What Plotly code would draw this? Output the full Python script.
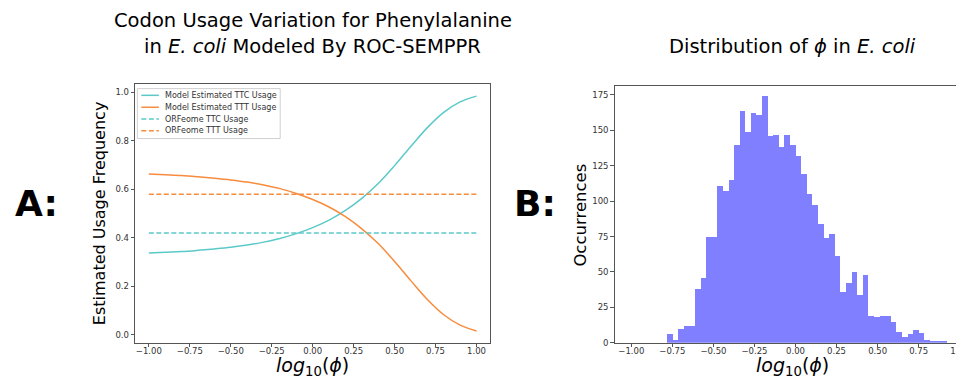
import numpy as np
import plotly.graph_objects as go

# ---- Panel A data: codon usage vs log10(phi) ----
log_phi = [-1.0, -0.9, -0.8, -0.7, -0.6, -0.5, -0.4, -0.3, -0.2, -0.1, 0.0,
           0.1, 0.2, 0.3, 0.4, 0.5, 0.6, 0.7, 0.8, 0.9, 1.0]
ttc_model = [0.337, 0.340, 0.343, 0.348, 0.354, 0.361, 0.370, 0.382, 0.397, 0.417, 0.442,
             0.473, 0.513, 0.563, 0.624, 0.698, 0.778, 0.855, 0.918, 0.961, 0.985]
ttt_model = [0.663, 0.660, 0.657, 0.652, 0.646, 0.639, 0.630, 0.618, 0.603, 0.583, 0.558,
             0.527, 0.487, 0.437, 0.376, 0.302, 0.222, 0.145, 0.082, 0.039, 0.015]
orfeome_x = [-1.0, 1.0]
orfeome_ttc = [0.42, 0.42]
orfeome_ttt = [0.58, 0.58]
legend_labels = ["Model Estimated TTC Usage", "Model Estimated TTT Usage",
                 "ORFeome TTC Usage", "ORFeome TTT Usage"]

# ---- Panel B data: histogram of log10(phi) ----
bin_first_edge = -0.785
bin_last_edge = 0.919
counts = [6, 2, 10, 12, 12, 38, 46, 75, 75, 111,
          107, 115, 140, 164, 149, 162, 161, 174, 146, 147,
          138, 147, 140, 132, 119, 105, 97, 84, 74, 77,
          61, 36, 42, 50, 34, 48, 19, 18, 19, 19,
          15, 8, 4, 6, 9, 7, 2, 1, 1, 1]

edges = np.linspace(bin_first_edge, bin_last_edge, len(counts) + 1)
centers = (edges[:-1] + edges[1:]) / 2
width = edges[1] - edges[0]

W, H = 964, 377
FONT = "DejaVu Sans"
CYAN = "#5cc9c9"
ORANGE = "#f78c3f"
DASH = "5px,2.5px"
styles = [dict(color=CYAN, width=1.5), dict(color=ORANGE, width=1.5),
          dict(color=CYAN, width=1.5, dash=DASH), dict(color=ORANGE, width=1.5, dash=DASH)]

fig = go.Figure()
fig.add_trace(go.Scatter(x=log_phi, y=ttc_model, mode="lines", line=dict(shape="spline", **styles[0]),
                         name=legend_labels[0], xaxis="x", yaxis="y", showlegend=False))
fig.add_trace(go.Scatter(x=log_phi, y=ttt_model, mode="lines", line=dict(shape="spline", **styles[1]),
                         name=legend_labels[1], xaxis="x", yaxis="y", showlegend=False))
fig.add_trace(go.Scatter(x=orfeome_x, y=orfeome_ttc, mode="lines", line=styles[2],
                         name=legend_labels[2], xaxis="x", yaxis="y", showlegend=False))
fig.add_trace(go.Scatter(x=orfeome_x, y=orfeome_ttt, mode="lines", line=styles[3],
                         name=legend_labels[3], xaxis="x", yaxis="y", showlegend=False))
fig.add_trace(go.Bar(x=centers, y=counts, width=width, marker=dict(color="rgba(0,0,255,0.5)", line=dict(width=0)),
                     showlegend=False, xaxis="x2", yaxis="y2"))

def px_x(p):
    return p / W

def px_y(p):
    return 1 - p / H

axis_common = dict(showline=True, linecolor="#555", linewidth=1, mirror=True, ticks="outside",
                   ticklen=3.5, tickcolor="#555", tickwidth=0.8, showgrid=False, zeroline=False,
                   tickfont=dict(family=FONT, size=8.5, color="#333"))

fig.update_layout(
    width=W, height=H, margin=dict(l=0, r=0, t=0, b=0),
    paper_bgcolor="white", plot_bgcolor="white",
    font=dict(family=FONT),
    bargap=0, showlegend=False,
    xaxis=dict(domain=[px_x(127.3), px_x(482.7)], range=[-1.0835, 1.0835], tickvals=[-1, -0.75, -0.5, -0.25, 0, 0.25, 0.5, 0.75, 1.0],
               tickformat=".2f", anchor="y", ticklabelstandoff=-4, **axis_common),
    yaxis=dict(domain=[px_y(339.3), px_y(77.3)], range=[-0.0338, 1.034], tickvals=[0, 0.2, 0.4, 0.6, 0.8, 1.0],
               tickformat=".1f", anchor="x", **axis_common),
    xaxis2=dict(domain=[px_x(607.3), px_x(961)], range=[-1.1016, 1.0507], tickvals=[-1, -0.75, -0.5, -0.25, 0, 0.25, 0.5, 0.75, 1.0],
                tickformat=".2f", anchor="y2", ticklabelstandoff=-4, **axis_common),
    yaxis2=dict(domain=[px_y(339.3), px_y(79)], range=[0, 181.3], tickvals=[0, 25, 50, 75, 100, 125, 150, 175],
                anchor="x2", **axis_common),
)

# manual compact legend (matplotlib-style)
shapes = [dict(type="rect", xref="paper", yref="paper", x0=px_x(129.5), x1=px_x(272.5), y0=px_y(132.3), y1=px_y(81.7),
               line=dict(color="#d0d0d0", width=1), fillcolor="rgba(255,255,255,0.8)", layer="above")]
annotations = []
row_y = [88.5, 100.6, 112.6, 124.3]
for lab, st, ry in zip(legend_labels, styles, row_y):
    shapes.append(dict(type="line", xref="paper", yref="paper", x0=px_x(133.5), x1=px_x(151), y0=px_y(ry), y1=px_y(ry),
                       line=st, layer="above"))
    annotations.append(dict(text=lab, x=px_x(155.5), y=px_y(ry), xref="paper", yref="paper", showarrow=False,
                            xanchor="left", yanchor="middle", font=dict(family=FONT, size=8, color="#333")))
fig.update_layout(shapes=shapes)

for txt, x, y in [("Codon Usage Variation for Phenylalanine", 305, 13),
                  ("in <i>E. coli</i> Modeled By ROC-SEMPPR", 305, 39),
                  ("Distribution of <i>ϕ</i> in <i>E. coli</i>", 785, 39)]:
    annotations.append(dict(text=txt, x=px_x(x), y=px_y(y), xref="paper", yref="paper", showarrow=False,
                            xanchor="center", yanchor="middle", font=dict(family=FONT, size=19.5, color="black")))
# axis titles
for cx in (305, 785):
    annotations.append(dict(text="<i>log</i><sub>10</sub>(<i>ϕ</i>)", x=px_x(cx), y=px_y(363), xref="paper", yref="paper",
                            showarrow=False, xanchor="center", yanchor="middle", font=dict(family=FONT, size=19, color="black")))
annotations.append(dict(text="Estimated Usage Frequency", x=px_x(91), y=px_y(208), xref="paper", yref="paper",
                        showarrow=False, xanchor="center", yanchor="middle", textangle=-90,
                        font=dict(family=FONT, size=16, color="black")))
annotations.append(dict(text="Occurrences", x=px_x(573), y=px_y(210), xref="paper", yref="paper",
                        showarrow=False, xanchor="center", yanchor="middle", textangle=-90,
                        font=dict(family=FONT, size=16.5, color="black")))
annotations.append(dict(text="<b>A:</b>", x=px_x(29), y=px_y(198), xref="paper", yref="paper",
                        showarrow=False, xanchor="center", yanchor="middle", font=dict(family=FONT, size=36, color="black")))
annotations.append(dict(text="<b>B:</b>", x=px_x(528), y=px_y(198), xref="paper", yref="paper",
                        showarrow=False, xanchor="center", yanchor="middle", font=dict(family=FONT, size=36, color="black")))
fig.update_layout(annotations=annotations)

fig.write_html("out.html")
